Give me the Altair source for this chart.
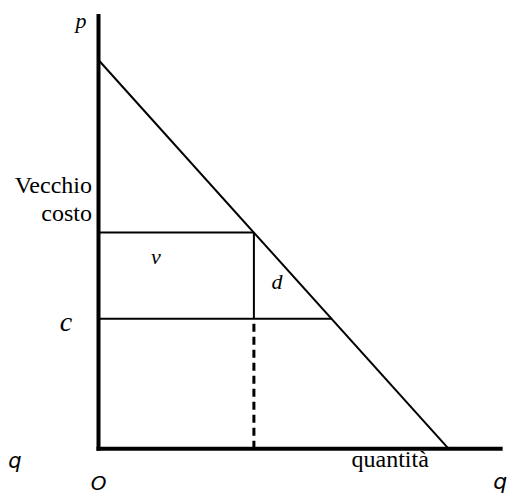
import altair as alt
import pandas as pd

# Economic quantities
p_intercept = 10.0      # demand meets the price axis
q_intercept = 10.0      # demand meets the quantity axis
old_cost = 5.56         # "Vecchio costo"
new_cost = 3.34         # c
q_old = 4.44            # quantity at old cost
q_new = 6.66            # quantity at c
p_axis_top = 11.13
q_axis_end = 11.49

# Scale domains (35 px per quantity unit, 38.87 px per price unit)
W, H = 503, 487
x0 = -90.5 / 35
y1 = 440.7 / 38.87
x_dom = [x0, x0 + W / 35]
y_dom = [y1 - H / 38.87, y1]

axes_df = pd.DataFrame({
    "x": [0, 0], "y": [0, 0],
    "x2": [0, q_axis_end], "y2": [p_axis_top, 0],
})
thin_df = pd.DataFrame({
    "x":  [0, 0, 0, q_old],
    "y":  [p_intercept, old_cost, new_cost, new_cost],
    "x2": [q_intercept, q_old, q_new, q_old],
    "y2": [0, old_cost, new_cost, old_cost],
})
dash_df = pd.DataFrame({"x": [q_old], "y": [0], "x2": [q_old], "y2": [new_cost]})

xs = alt.Scale(domain=x_dom, nice=False, zero=False)
ys = alt.Scale(domain=y_dom, nice=False, zero=False)

def seg(df, width, dash=None, cap="butt"):
    kw = dict(color="black", strokeWidth=width, strokeCap=cap)
    if dash:
        kw["strokeDash"] = dash
    return alt.Chart(df).mark_rule(**kw).encode(
        x=alt.X("x:Q", scale=xs, axis=None),
        y=alt.Y("y:Q", scale=ys, axis=None),
        x2="x2:Q", y2="y2:Q",
    )

def txt(labels, xv, yv, font, size, style="normal", align="center"):
    df = pd.DataFrame({"t": labels, "x": xv, "y": yv})
    return alt.Chart(df).mark_text(
        font=font, fontSize=size, fontStyle=style, align=align,
        baseline="alphabetic", color="black",
    ).encode(
        x=alt.X("x:Q", scale=xs, axis=None),
        y=alt.Y("y:Q", scale=ys, axis=None),
        text="t:N",
    )

serif = "Liberation Serif"
sans = "DejaVu Sans"

layers = [
    seg(axes_df, 4, cap="square"),
    seg(thin_df, 2),
    seg(dash_df, 3, dash=[8, 5]),
    txt(["p", "v", "d"], [-0.50, 1.64, 5.10], [10.82, 4.75, 4.11], serif, 22, "italic"),
    txt(["c"], [-0.93], [new_cost - 0.31], serif, 28, "italic"),
    txt(["Vecchio", "costo"], [-0.186, -0.186], [6.58, 5.86], serif, 24, "normal", "right"),
    txt(["quantità"], [7.23], [-0.47], serif, 24, "normal", "left"),
    txt(["q"], [-2.39], [-0.50], sans, 21, "italic"),
    txt(["O"], [0.0], [-1.06], sans, 20, "italic"),
    txt(["q"], [11.28], [-1.04], sans, 22, "italic", "left"),
]

chart = alt.layer(*layers).properties(
    width=W, height=H, padding=0,
    autosize=alt.AutoSizeParams(type="none"),
).configure_view(stroke=None)

chart.save("out.html", embed_options={"renderer": "svg", "actions": False})
